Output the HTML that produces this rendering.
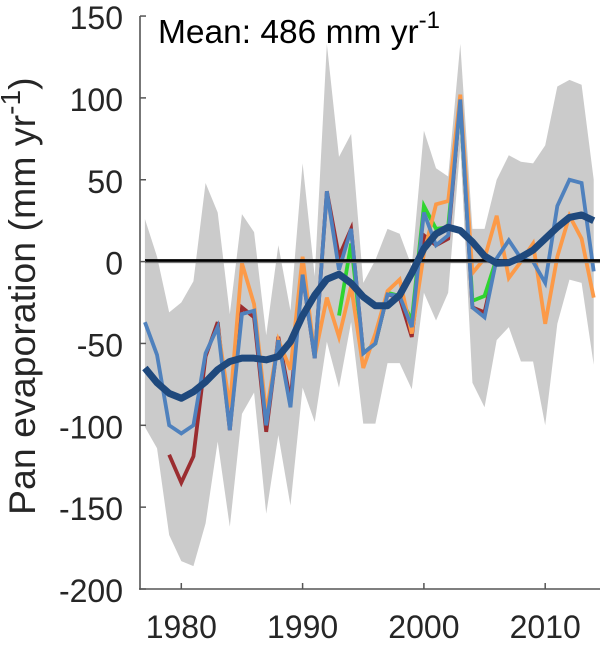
<!DOCTYPE html>
<html>
<head>
<meta charset="utf-8">
<title>Pan evaporation anomaly chart</title>
<style>
html,body{margin:0;padding:0;background:#fff;width:604px;height:645px;overflow:hidden}
svg{display:block;font-family:"Liberation Sans",sans-serif}
</style>
</head>
<body>
<svg id="chart" width="604" height="645" viewBox="0 0 604 645" xmlns="http://www.w3.org/2000/svg">
  <g id="band"></g>
  <g id="series"></g>
  <g id="zero"></g>
  <g id="mean"></g>
  <g id="axes"></g>
  <text x="158" y="43" font-size="33.5" fill="#000">Mean: 486 mm yr<tspan font-size="24" dy="-15">-1</tspan></text>
  <text transform="translate(35,515) rotate(-90)" font-size="37.5" fill="#262626">Pan evaporation (mm yr<tspan font-size="28" dy="-15">-1</tspan><tspan dy="15">)</tspan></text>
</svg>
<script>
const startYear = 1977;
const xTickValues = [1980, 1990, 2000, 2010];
const yTickValues = [150, 100, 50, 0, -50, -100, -150, -200];
const bandUpper = [26,3,-31,-25,-12,48,30,-32,29,18,-45,10,-30,60,-9,133,64,78,-13,1,20,17,-3,80,57,52,133,20,20,50,65,61,60,71,107,111,108,50];
const bandLower = [-101,-114,-167,-183,-186,-160,-110,-162,-93,-80,-154,-106,-149,-77,-98,-49,-77,-37,-99,-99,-62,-62,-78,-19,-36,-19,70,-74,-89,-48,-40,-61,-61,-100,-38,-11,-13,-63];
const redYears = [1979,1980,1981,1982,1983,1984,1985,1986,1987,1988,1989,1990,1991,1992,1993,1994,1995,1996,1997,1998,1999,2000,2001,2002,2003,2004,2005,2006];
const redValues = [-118,-135,-119,-58,-37,-103,-28,-34,-104,-46,-85,-8,-59,43,3,20,-56,-50,-20,-22,-46,16,10,14,99,-28,-31,2];
const greenYears = [1993,1994,1995,1996,1997,1998,1999,2000,2001,2002,2003,2004,2005,2006];
const greenValues = [-33,11,-56,-50,-19,-21,-36,34,20,21,98,-24,-21,2];
const orangeYears = [1983,1984,1985,1986,1987,1988,1989,1990,1991,1992,1993,1994,1995,1996,1997,1998,1999,2000,2001,2002,2003,2004,2005,2006,2007,2008,2009,2010,2011,2012,2013,2014];
const orangeValues = [-40,-89,-1,-26,-93,-48,-66,3,-58,-22,-46,-15,-65,-44,-18,-11,-44,5,35,37,102,-7,2,28,-10,0,11,-38,3,28,14,-22];
const blueYears = [1977,1978,1979,1980,1981,1982,1983,1984,1985,1986,1987,1988,1989,1990,1991,1992,1993,1994,1995,1996,1997,1998,1999,2000,2001,2002,2003,2004,2005,2006,2007,2008,2009,2010,2011,2012,2013,2014];
const blueValues = [-37,-57,-100,-105,-100,-56,-40,-103,-32,-30,-100,-48,-89,-8,-59,43,-5,20,-56,-50,-20,-21,-40,30,10,16,99,-28,-34,2,13,2,0,-13,34,50,48,-6];
const meanValues = [-65,-74,-80.5,-83.5,-79.5,-73.5,-66,-61,-59,-59,-60,-58,-49,-33,-20.5,-10.8,-7.7,-13.2,-21.5,-27,-27,-20.5,-7,8,17,21,19,12,3.4,-1,-0.7,2.7,7,14,21,27,28.5,25];

const NS = 'http://www.w3.org/2000/svg';
function xScale(year){ return 181.3 + (year - 1980) * 12.13; }
function yScale(v){ return 261.6 - v * 1.637; }
function make(tag, parent){
  const el = document.createElementNS(NS, tag);
  parent.appendChild(el);
  return el;
}
function linePoints(years, values){
  return years.map(function(y, i){ return xScale(y).toFixed(2) + ',' + yScale(values[i]).toFixed(2); }).join(' ');
}
const allYears = bandUpper.map(function(_, i){ return startYear + i; });

const bandEl = make('polygon', document.getElementById('band'));


bandEl.setAttribute('fill', '#cbcbcb');
bandEl.setAttribute('points', linePoints(allYears, bandUpper) + ' ' + linePoints(allYears.slice().reverse(), bandLower.slice().reverse()));

const seriesLayer = document.getElementById('series');
function drawSeries(years, values, color){
  const el = make('polyline', seriesLayer);
  el.setAttribute('fill', 'none');
  el.setAttribute('stroke', color);
  el.setAttribute('stroke-width', '3.8');
  el.setAttribute('stroke-linejoin', 'miter');
  el.setAttribute('points', linePoints(years, values));
  return el;
}
const redLine = drawSeries(redYears, redValues, '#9b2d30');


const greenLine = drawSeries(greenYears, greenValues, '#2fd52f');


const orangeLine = drawSeries(orangeYears, orangeValues, '#fc9a48');


const blueLine = drawSeries(blueYears, blueValues, '#4f81bd');



const zeroLayer = document.getElementById('zero');
const zeroShadow = make('line', zeroLayer);


zeroShadow.setAttribute('x1', 145);
zeroShadow.setAttribute('x2', 600);
zeroShadow.setAttribute('y1', yScale(0) + 0.6);
zeroShadow.setAttribute('y2', yScale(0) + 0.6);
zeroShadow.setAttribute('stroke', '#777');
zeroShadow.setAttribute('stroke-width', '1.8');
const zeroLine = make('line', zeroLayer);


zeroLine.setAttribute('x1', 145);
zeroLine.setAttribute('x2', 600);
zeroLine.setAttribute('y1', yScale(0) - 1.2);
zeroLine.setAttribute('y2', yScale(0) - 1.2);
zeroLine.setAttribute('stroke', '#000');
zeroLine.setAttribute('stroke-width', '2.6');

const meanLine = make('polyline', document.getElementById('mean'));


meanLine.setAttribute('fill', 'none');
meanLine.setAttribute('stroke', '#1f497d');
meanLine.setAttribute('stroke-width', '7');
meanLine.setAttribute('stroke-linejoin', 'round');
meanLine.setAttribute('points', linePoints(allYears, meanValues));

const axes = document.getElementById('axes');
const axisColor = '#555';
const leftAxis = make('line', axes);


leftAxis.setAttribute('x1', 140);
leftAxis.setAttribute('x2', 140);
leftAxis.setAttribute('y1', yScale(150));
leftAxis.setAttribute('y2', yScale(-200) + 0.8);
leftAxis.setAttribute('stroke', axisColor);
leftAxis.setAttribute('stroke-width', '1.6');
const bottomAxis = make('line', axes);


bottomAxis.setAttribute('x1', 139);
bottomAxis.setAttribute('x2', 600);
bottomAxis.setAttribute('y1', yScale(-200));
bottomAxis.setAttribute('y2', yScale(-200));
bottomAxis.setAttribute('stroke', axisColor);
bottomAxis.setAttribute('stroke-width', '1.6');

yTickValues.forEach(function(v){
  const y = yScale(v);
  const tick = make('line', axes);
  
  
  tick.setAttribute('x1', 140);
  tick.setAttribute('x2', 146);
  tick.setAttribute('y1', y);
  tick.setAttribute('y2', y);
  tick.setAttribute('stroke', axisColor);
  tick.setAttribute('stroke-width', '1.5');
  const label = make('text', axes);
  
  
  label.setAttribute('x', 123);
  label.setAttribute('y', y + 13);
  label.setAttribute('text-anchor', 'end');
  label.setAttribute('font-size', '32');
  label.setAttribute('fill', '#262626');
  label.textContent = String(v);
});
xTickValues.forEach(function(v){
  const x = xScale(v);
  const tick = make('line', axes);
  
  
  tick.setAttribute('x1', x);
  tick.setAttribute('x2', x);
  tick.setAttribute('y1', yScale(-200));
  tick.setAttribute('y2', yScale(-200) - 6);
  tick.setAttribute('stroke', axisColor);
  tick.setAttribute('stroke-width', '1.5');
  const label = make('text', axes);
  
  
  label.setAttribute('x', x);
  label.setAttribute('y', 638);
  label.setAttribute('text-anchor', 'middle');
  label.setAttribute('font-size', '32');
  label.setAttribute('fill', '#262626');
  label.textContent = String(v);
});
</script>
</body>
</html>
